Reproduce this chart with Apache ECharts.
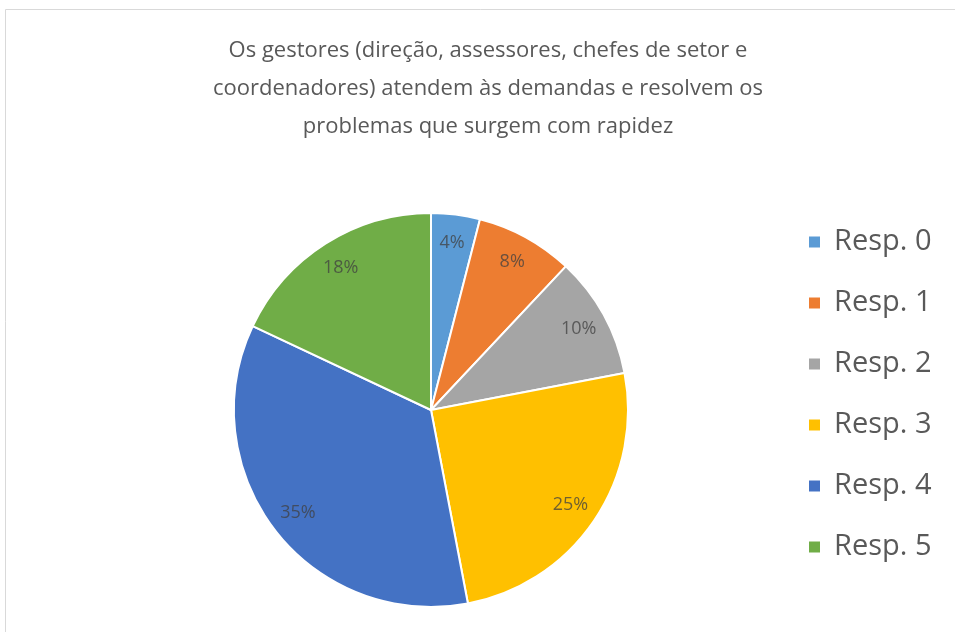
<!DOCTYPE html>
<html>
<head>
<meta charset="utf-8">
<script src="https://cdn.jsdelivr.net/npm/echarts@6/dist/echarts.min.js"></script>
<style>
  html, body { margin: 0; padding: 0; background: #fff; }
  #chart { width: 955px; height: 632px; }
</style>
</head>
<body>
<div id="chart"></div>
<script>
// ===== data =====
const categories = ['Resp. 0', 'Resp. 1', 'Resp. 2', 'Resp. 3', 'Resp. 4', 'Resp. 5'];
const percents = [4, 8, 10, 25, 35, 18];
const colors = ['#5B9BD5', '#ED7D31', '#A5A5A5', '#FFC000', '#4472C4', '#70AD47'];

const titleText = 'Os gestores (direção, assessores, chefes de setor e\ncoordenadores) atendem às demandas e resolvem os\nproblemas que surgem com rapidez';

const pieData = categories.map((name, i) => ({ name, value: percents[i] }));

const chart = echarts.init(document.getElementById('chart'));

chart.setOption({
  color: colors,
  animation: false,
  title: {
    text: titleText,
    left: 483,
    top: 27,
    textAlign: 'center',
    textStyle: {
      fontFamily: 'Open Sans',
      fontSize: 22,
      fontWeight: 'normal',
      color: '#595959',
      lineHeight: 38
    }
  },
  legend: {
    orient: 'vertical',
    left: 802,
    top: 219,
    itemWidth: 13,
    itemHeight: 13,
    itemGap: 25,
    icon: 'rect',
    textStyle: {
      fontFamily: 'Open Sans',
      fontSize: 29,
      color: '#595959',
      lineHeight: 36,
      padding: [0, 0, 0, 8]
    },
    data: categories
  },
  // light frame of the original chart area
  graphic: [{
    type: 'rect',
    shape: { x: 5.5, y: 9.5, width: 1000, height: 700 },
    style: { fill: 'none', stroke: '#d9d9d9', lineWidth: 1 },
    silent: true
  }],
  series: [
    {
      // coloured slices
      type: 'pie',
      center: [431, 410],
      radius: 197,
      startAngle: 90,
      clockwise: true,
      label: { show: false },
      labelLine: { show: false },
      itemStyle: { borderColor: '#fff', borderWidth: 2 },
      data: pieData
    },
    {
      // transparent ring only used to place the percent labels near the rim
      type: 'pie',
      center: [431, 410],
      radius: [134, 197],
      startAngle: 90,
      clockwise: true,
      silent: true,
      legendHoverLink: false,
      itemStyle: { color: 'transparent' },
      label: {
        show: true,
        position: 'inside',
        formatter: '{c}%',
        fontFamily: 'Open Sans',
        fontSize: 18,
        color: '#404040',
        opacity: 0.75
      },
      labelLine: { show: false },
      data: pieData
    }
  ]
});
</script>
</body>
</html>
